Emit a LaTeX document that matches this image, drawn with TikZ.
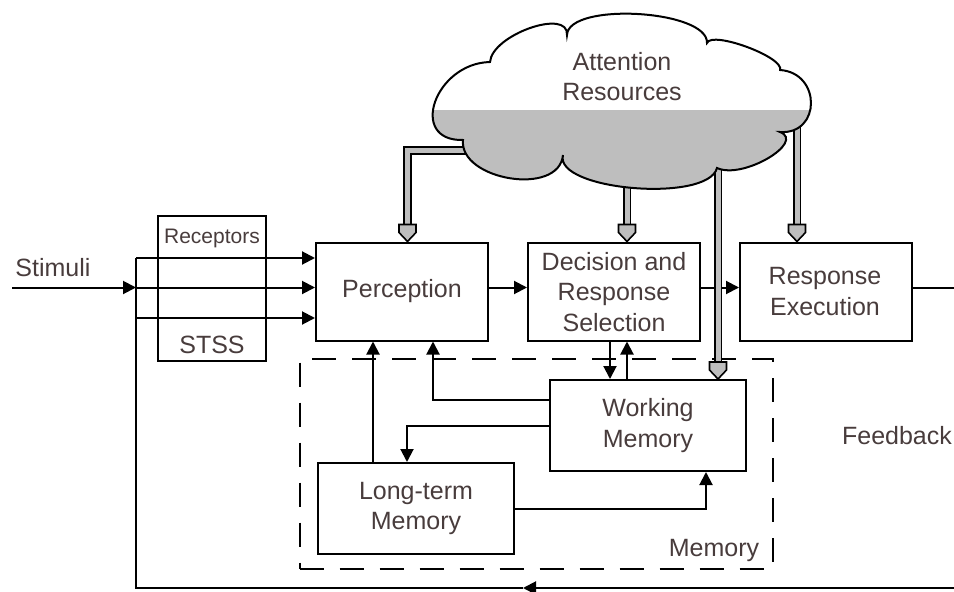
\documentclass[tikz,border=0pt]{standalone}
\usepackage{fontspec}
\setmainfont{Liberation Sans}
\usetikzlibrary{arrows.meta}
\definecolor{ink}{RGB}{72,60,60}
\definecolor{cloudgray}{RGB}{190,190,190}

% outline of the attention cloud (image-style coordinates, y grows downwards)
\newcommand{\attnoutline}{%
  (463,140) .. controls (407.7,141.3) and (434.7,63.3) .. (490,62)
  .. controls (492,34.7) and (569,7.7) .. (567,35)
  .. controls (568.3,1.7) and (708.3,9.7) .. (707,43)
  .. controls (711.7,30.3) and (784.7,57.3) .. (780,70)
  .. controls (821.3,72.7) and (821.3,134.7) .. (780,132)
  .. controls (806,142) and (743,180) .. (717,168)
  .. controls (707.7,203.3) and (553.7,190.3) .. (563,155)
  .. controls (559,197) and (459,180) .. (463,140) -- cycle}

\tikzset{
  wire/.style={line width=2pt},
  conn/.style={wire, -{Triangle[length=13pt,width=13pt]}},
  stagebox/.style={draw, line width=2pt, inner sep=0pt},
  txt/.style={font=\fontsize{25}{30.5}\selectfont, text=ink, align=center, inner sep=0pt},
  gshaft/.style={draw=cloudgray, line width=5pt, preaction={draw=black, line width=8.5pt}},
  ghead/.pic={\filldraw[fill=cloudgray, draw=black, line width=1.6pt, line join=miter]
     (-8.5,-17) -- (8.5,-17) -- (8.5,-9) -- (0,0) -- (-8.5,-9) -- cycle;}
}

\begin{document}
\begin{tikzpicture}[x=1pt,y=-1pt]
\useasboundingbox (0,0) rectangle (954,592);

% memory region
\node[draw, line width=2pt, dash pattern=on 24pt off 16pt, minimum width=473, minimum height=210, inner sep=0pt] (mem) at (536,463.5) {};
\node[txt] (memlbl) at (714,550) {Memory};

% receptors / short-term sensory store
\node[stagebox, minimum width=108, minimum height=145] (rec) at (212,288) {};
\node[txt, font=\fontsize{21}{25}\selectfont] (reclbl) at (212,238) {Receptors};
\node[txt] (stss) at (212,345) {STSS};

% processing stages
\node[stagebox, minimum width=172, minimum height=98] (perc) at (402,291.5) {};
\node[txt] (perclbl) at (402,291.5) {Perception};
\node[stagebox, minimum width=172, minimum height=98] (dec) at (614,291.5) {};
\node[txt] (declbl) at (614,292) {Decision and\\Response\\Selection};
\node[stagebox, minimum width=172, minimum height=98] (resp) at (826,291.5) {};
\node[txt] (resplbl) at (825,291.5) {Response\\Execution};

% memory stores
\node[stagebox, minimum width=196, minimum height=91] (wm) at (648,425.5) {};
\node[txt] (wmlbl) at (648,425.5) {Working\\Memory};
\node[stagebox, minimum width=196, minimum height=91] (ltm) at (416,508.5) {};
\node[txt] (ltmlbl) at (416,508.5) {Long-term\\Memory};

% free labels
\node[txt] (stim) at (53,268) {Stimuli};
\node[txt] (fb) at (897,436) {Feedback};

% input lines
\coordinate (row) at (0,287.5);
\coordinate (sin) at (12,287.5);
\coordinate (split) at (136,287.5);
\coordinate (j1) at (136,258);
\coordinate (j3) at (136,318);
\draw[conn] (sin) -- (split);
\draw[conn] (j1) -- (j1 -| perc.west);
\draw[conn] (split) -- (split -| perc.west);
\draw[conn] (j3) -- (j3 -| perc.west);

% main chain
\draw[conn] (perc.east |- row) -- (dec.west |- row);
\draw[conn] (dec.east |- row) -- (resp.west |- row);

% feedback loop
\coordinate (fbR) at (958,287.5);
\coordinate (fbBR) at (958,588);
\coordinate (fbM) at (523,588);
\coordinate (fbBL) at (136,588);
\draw[wire] (resp.east |- row) -- (fbR) -- (fbBR);
\draw[conn] (fbBR) -- (fbM);
\draw[wire] (fbM) -- (fbBL) -- (j1);

% memory connections
\draw[conn] ([xshift=-43pt]ltm.north) -- ([xshift=-43pt]ltm.north |- perc.south);
\draw[conn] ([yshift=26pt]wm.west) -| ([xshift=31pt]perc.south);
\draw[conn] (wm.west) -| ([xshift=-9pt]ltm.north);
\draw[conn] (ltm.east) -| ([xshift=58pt]wm.south);
\draw[conn] ([xshift=-4pt]dec.south) -- ([xshift=-4pt]dec.south |- wm.north);
\draw[conn] ([xshift=13pt]dec.south |- wm.north) -- ([xshift=13pt]dec.south);

% attention resource channels
\coordinate (g1s) at (485,150.5);
\coordinate (g1x) at (407.5,0);
\coordinate (g2s) at (627,160);
\coordinate (g3s) at (718,150);
\coordinate (g4s) at (797,112);
\coordinate (h1) at (g1x |- perc.north);
\coordinate (h2) at (g2s |- dec.north);
\coordinate (h3) at (g3s |- wm.north);
\coordinate (h4) at (g4s |- resp.north);
\draw[gshaft] (g1s) -| ([yshift=16pt]h1);
\draw[gshaft] (g2s) -- ([yshift=16pt]h2);
\draw[gshaft] (g3s) -- ([yshift=16pt]h3);
\draw[gshaft] (g4s) -- ([yshift=16pt]h4);
\pic at (h1) {ghead};
\pic at (h2) {ghead};
\pic at (h3) {ghead};
\pic at (h4) {ghead};

% attention cloud, lower half shaded
\fill[white] \attnoutline;
\begin{scope}
  \clip \attnoutline;
  \fill[cloudgray] (400,110) rectangle (840,210);
\end{scope}
\draw[wire] \attnoutline;
\node[txt] (attn) at (622,76.5) {Attention\\Resources};
\end{tikzpicture}
\end{document}
